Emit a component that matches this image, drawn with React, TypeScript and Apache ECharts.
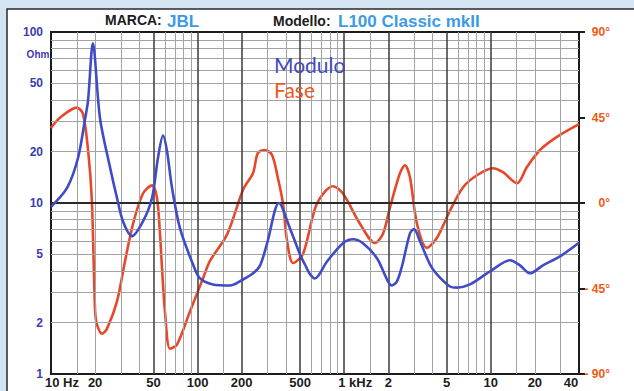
import React, { useEffect, useRef } from "react";
import * as echarts from "echarts";

// Impedance modulus (Ohm) vs frequency (Hz)
const freqZ = [10, 12.9, 15.3, 17.1, 17.9, 19.3, 21.6, 25.3, 28.2, 31.0, 35.7, 42.4, 48.9, 53.7, 58.1, 61.8, 66.9, 75.9, 93, 104, 127, 166, 204, 239, 267, 297, 359, 427, 500, 540, 585, 632, 764, 981, 1148, 1343, 1674, 1990, 2118, 2291, 2479, 2811, 2994, 3289, 3848, 4297, 5272, 5877, 7212, 9885, 13520, 15820, 18500, 22700, 29650, 40000];
const impedance = [9.5, 12.3, 18.4, 31.2, 39.8, 86, 31.2, 16.1, 10.7, 7.8, 6.4, 7.8, 10.7, 18.4, 24.8, 20.2, 12.3, 7.1, 4.38, 3.62, 3.34, 3.29, 3.57, 3.88, 4.32, 5.74, 10, 7.1, 5.0, 4.37, 3.83, 3.62, 4.55, 5.82, 6.14, 5.82, 4.75, 3.48, 3.29, 3.48, 4.26, 6.65, 7.03, 5.98, 4.38, 3.83, 3.25, 3.2, 3.34, 3.98, 4.63, 4.32, 3.88, 4.32, 4.87, 5.85];

// Phase (degrees) vs frequency (Hz)
const freqPhase = [10, 11.5, 15.0, 16.5, 17.9, 19.0, 20.0, 20.6, 22.3, 24.1, 28.2, 32.0, 36.3, 42.4, 48.9, 52.8, 55.4, 57.2, 59.9, 64.8, 72.3, 88.7, 109, 121.5, 159, 204, 239, 258, 288, 322, 353, 382, 407, 448, 524, 652, 839, 981, 1282, 1622, 1840, 2053, 2403, 2600, 2811, 3138, 3673, 4297, 5272, 6460, 8050, 10350, 12110, 15100, 17660, 21670, 28300, 40000];
const phase = [39.5, 44.9, 50.2, 47.0, 27.9, 1.3, -57.1, -64.0, -68.8, -66.1, -51.8, -30.5, -10.9, 5.0, 9.3, 2.9, -16.2, -34.3, -57.1, -76.7, -74.6, -57.1, -39.6, -30.5, -16.5, 6.9, 15.8, 26.4, 27.9, 25.3, 13.2, 0, -19.5, -31.6, -26.8, -0.3, 8.8, 5.0, -10.9, -21.0, -16.2, -2.4, 15.7, 19.9, 13.5, -10.9, -23.6, -18.3, -4.0, 8.2, 14.6, 18.3, 16.2, 10.4, 18.9, 27.9, 34.8, 41.5];

// Grid lines
const xMinorGrid = [15, 20, 30, 40, 60, 70, 80, 90, 150, 300, 400, 600, 700, 800, 900, 1500, 3000, 4000, 6000, 7000, 8000, 9000, 15000, 20000, 30000];
const xMajorGrid = [50, 100, 200, 500, 1000, 2000, 5000, 10000];
const yMinorGrid = [2, 3, 4, 5, 6, 7, 8, 9, 20, 30, 40, 50, 60, 70, 80, 90];
const yMajorGrid = [10];

// Tick labels
const xTickValues = [10, 20, 50, 100, 200, 500, 1000, 2000, 5000, 10000, 20000, 40000];
const xTickLabels = ["10 Hz", "20", "50", "100", "200", "500", "1 kHz", "2", "5", "10", "20", "40"];
const yTickValues = [1, 2, 5, 10, 20, 50, 100];
const yTickLabels = ["1", "2", "5", "10", "20", "50", "100"];
const phaseMin = -90;
const phaseMax = 90;
const phaseStep = 45;

const labelPadX: Record<string, number[]> = {
  "10 Hz": [0, 0, 0, 22],
  "1 kHz": [0, 0, 0, 22],
  "40": [0, 16, 0, 0],
};

export default function App() {
  const ref = useRef<HTMLDivElement>(null);
  useEffect(() => {
    if (!ref.current) return;
    const chart = echarts.init(ref.current, null, { renderer: "svg" });
    const hidden = "rgba(0,0,0,0)";
    const black = "#1c1c1c";
    const option: any = {
      animation: false,
      backgroundColor: "#d4e4f2",
      grid: {
        left: 51,
        right: 55,
        top: 32,
        bottom: 17,
        show: true,
        backgroundColor: "#ffffff",
        borderColor: black,
        borderWidth: 2,
        z: 1,
      },
      graphic: [
        {
          type: "rect",
          z: -1,
          silent: true,
          shape: { x: 7, y: 9, width: 700, height: 500 },
          style: { fill: "#ffffff", stroke: "#2a2a2a", lineWidth: 1.5 },
        },
        {
          type: "text", x: 105, y: 20, z: 10,
          style: { text: "MARCA:", fill: black, font: 'bold 14px "Liberation Sans", Arial, sans-serif', align: "left", verticalAlign: "middle" },
        },
        {
          type: "text", x: 167, y: 21, z: 10,
          style: { text: "JBL", fill: "#3d9ae6", font: 'bold 17px "Liberation Sans", Arial, sans-serif', align: "left", verticalAlign: "middle" },
        },
        {
          type: "text", x: 273, y: 21, z: 10,
          style: { text: "Modello:", fill: black, font: 'bold 14px "Liberation Sans", Arial, sans-serif', align: "left", verticalAlign: "middle" },
        },
        {
          type: "text", x: 338, y: 21, z: 10,
          style: { text: "L100 Classic mkII", fill: "#3d9ae6", font: 'bold 17px "Liberation Sans", Arial, sans-serif', align: "left", verticalAlign: "middle" },
        },
        {
          type: "text", x: 274, y: 64, z: 10,
          style: { text: "Modulo", fill: "#4548c0", font: '21px Lato, "Open Sans", sans-serif', align: "left", verticalAlign: "middle" },
        },
        {
          type: "text", x: 274, y: 89, z: 10,
          style: { text: "Fase", fill: "#ec5a22", font: '21px Lato, "Open Sans", sans-serif', align: "left", verticalAlign: "middle" },
        },
        {
          type: "text", x: 38, y: 54, z: 10,
          style: { text: "Ohm", fill: "#3a3db4", font: 'bold 10px "Liberation Sans Narrow", "Liberation Sans", Arial, sans-serif', align: "center", verticalAlign: "middle" },
        },
      ],
      xAxis: {
        type: "log",
        logBase: 10,
        min: 10,
        max: 40000,
        axisLine: { show: true, lineStyle: { color: black, width: 2 } },
        axisTick: { show: false },
        axisLabel: { show: false },
        splitLine: { show: false },
        minorSplitLine: { show: false },
      },
      yAxis: [
        {
          type: "log",
          logBase: 10,
          min: 1,
          max: 100,
          axisLine: { show: true, lineStyle: { color: black, width: 2 } },
          axisTick: { show: false },
          axisLabel: { show: false },
          splitLine: { show: false },
        },
        {
          type: "value",
          position: "right",
          min: phaseMin,
          max: phaseMax,
          interval: phaseStep,
          axisLine: { show: true, lineStyle: { color: black, width: 2 } },
          axisTick: { show: true, inside: false, length: 6, lineStyle: { color: black, width: 2 } },
          axisLabel: {
            show: true,
            color: "#f05a14",
            fontWeight: "bold",
            fontSize: 12,
            fontFamily: '"Liberation Sans", Arial, sans-serif',
            align: "right",
            margin: 31,
            formatter: (v: number) => (v < 0 ? "- " + Math.abs(v) + "°" : v + "°"),
          },
          splitLine: { show: false },
        },
      ],
      series: [
        {
          type: "line",
          name: "grid",
          data: [],
          z: 2,
          silent: true,
          markLine: {
            silent: true,
            symbol: ["none", "none"],
            label: { show: false },
            emphasis: { disabled: true },
            data: [
              ...xMinorGrid.map((v) => ({ xAxis: v, lineStyle: { color: "#a3a3a3", width: 1, type: "solid" } })),
              ...yMinorGrid.map((v) => ({ yAxis: v, lineStyle: { color: "#a3a3a3", width: 1, type: "solid" } })),
              ...xMajorGrid.map((v) => ({ xAxis: v, lineStyle: { color: "#3a3a3a", width: 1.5, type: "solid" } })),
              ...yMajorGrid.map((v) => ({ yAxis: v, lineStyle: { color: "#2a2a2a", width: 1.8, type: "solid" } })),
            ],
          },
        },
        {
          type: "line",
          name: "xlabels",
          data: [],
          z: 2,
          silent: true,
          markLine: {
            silent: true,
            symbol: ["none", "none"],
            lineStyle: { color: hidden, width: 0 },
            emphasis: { disabled: true },
            label: {
              show: true,
              position: "start",
              distance: 2,
              color: black,
              fontWeight: "bold",
              fontSize: 13,
              fontFamily: '"Liberation Sans Narrow", "Liberation Sans", Arial, sans-serif',
            },
            data: xTickValues.map((v, i) => ({
              xAxis: v,
              label: { formatter: xTickLabels[i], padding: labelPadX[xTickLabels[i]] || 0 },
            })),
          },
        },
        {
          type: "line",
          name: "ylabels",
          data: [],
          z: 2,
          silent: true,
          markLine: {
            silent: true,
            symbol: ["none", "none"],
            lineStyle: { color: hidden, width: 0 },
            emphasis: { disabled: true },
            label: {
              show: true,
              position: "start",
              distance: 8,
              color: "#3a3db4",
              fontWeight: "bold",
              fontSize: 12,
              fontFamily: '"Liberation Sans", Arial, sans-serif',
            },
            data: yTickValues.map((v, i) => ({
              yAxis: v,
              label: { formatter: yTickLabels[i], padding: yTickLabels[i] === "1" ? [0, 0, 10, 0] : 0 },
            })),
          },
        },
        {
          type: "line",
          name: "Modulo",
          xAxisIndex: 0,
          yAxisIndex: 0,
          z: 5,
          data: freqZ.map((f, i) => [f, impedance[i]]),
          showSymbol: false,
          symbol: "none",
          smooth: 0.3,
          lineStyle: { color: "#3f4cc6", width: 2.6 },
        },
        {
          type: "line",
          name: "Fase",
          xAxisIndex: 0,
          yAxisIndex: 1,
          z: 4,
          data: freqPhase.map((f, i) => [f, phase[i]]),
          showSymbol: false,
          symbol: "none",
          smooth: 0.3,
          lineStyle: { color: "#e8472a", width: 2.6 },
        },
      ],
    };
    chart.setOption(option);
    return () => chart.dispose();
  }, []);
  return (
    <div
      ref={ref}
      style={{ position: "absolute", left: 0, top: 0, width: 634, height: 391 }}
    />
  );
}
